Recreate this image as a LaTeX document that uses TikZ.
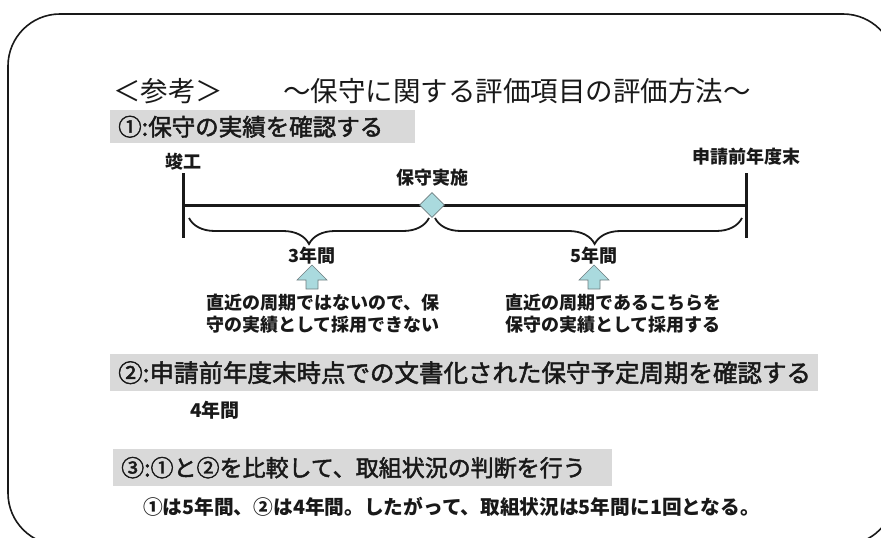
\documentclass[tikz,border=0pt]{standalone}
\usepackage{fontspec}
\setmainfont{Noto Sans CJK JP}
\newfontfamily\jpmed{Noto Sans CJK JP}[FakeBold=2]
\usetikzlibrary{decorations.pathreplacing,shapes.geometric}
\definecolor{boxgray}{RGB}{217,217,217}
\definecolor{tealfill}{RGB}{170,218,222}
\definecolor{edgegray}{RGB}{110,125,128}
\definecolor{ink}{RGB}{25,25,25}
\begin{document}
\begin{tikzpicture}[x=1pt,y=-1pt,
  every node/.style={text=ink},
  titlef/.style={font=\fontsize{27.5pt}{30pt}\selectfont, inner sep=0pt},
  secbox/.style={fill=boxgray, anchor=north west, inner xsep=8pt, inner ysep=0pt, align=left, font=\jpmed\fontsize{24.5pt}{26pt}\selectfont},
  lab/.style={font=\bfseries\fontsize{18pt}{20pt}\selectfont, inner sep=0pt},
  note/.style={font=\bfseries\fontsize{18pt}{22pt}\selectfont, inner sep=0pt, align=left, anchor=west},
  axis/.style={line width=3pt, draw=ink},
  bracestyle/.style={line width=1.8pt, draw=ink, decorate, decoration={brace, mirror, amplitude=26pt}},
  uparrow/.style={fill=tealfill, draw=edgegray, line width=0.6pt}
]
\useasboundingbox (0,0) rectangle (881,538);
% frame
\draw[line width=1.6pt, draw=ink, rounded corners=52pt] (8,14) rectangle (895,545);
% title
\node[titlef] (t1) at (168,91) {＜参考＞};
\node[titlef] (t2) at (517,91) {～保守に関する評価項目の評価方法～};
% section 1
\node[secbox, minimum width=305pt, text width=289pt, minimum height=33pt, font=\jpmed\fontsize{23.5pt}{26pt}\selectfont] (b1) at (110,110) {①:保守の実績を確認する};
% timeline
\coordinate (ltop) at (183,173);
\coordinate (lbot) at (183,238);
\coordinate (rtop) at (746,173);
\coordinate (rbot) at (746,238);
\coordinate (L) at (183,205);
\coordinate (R) at (746,205);
\draw[axis] (ltop) -- (lbot);
\draw[axis] (rtop) -- (rbot);
\draw[axis] (L) -- (R);
\node[diamond, draw=edgegray, fill=tealfill, line width=0.6pt, minimum width=25pt, minimum height=25pt, inner sep=0pt] (dia) at (432,205) {};
\coordinate (b1s) at (189,218);
\coordinate (b1e) at (429,218);
\coordinate (b2s) at (435,218);
\coordinate (b2e) at (742,218);
\draw[bracestyle] (b1s) -- (b1e);
\draw[bracestyle, decoration={brace, mirror, amplitude=26pt, aspect=0.52}] (b2s) -- (b2e);
\node[lab] (kanko) at (183,162) {竣工};
\node[lab] (hoshu) at (432,178) {保守実施};
\node[lab] (shinsei) at (746,157) {申請前年度末};
\node[lab] (y3) at (312,256) {3年間};
\node[lab] (y5) at (594,256) {5年間};
% block arrows
\draw[uparrow] (312,265) -- (327,280) -- (318,280) -- (318,289) -- (306,289) -- (306,280) -- (297,280) -- cycle;
\draw[uparrow] (594,265) -- (609,280) -- (600,280) -- (600,289) -- (588,289) -- (588,280) -- (579,280) -- cycle;
\node[note] (n1) at (206,314) {直近の周期ではないので、保\\守の実績として採用できない};
\node[note] (n2) at (505,314) {直近の周期であるこちらを\\保守の実績として採用する};
% section 2
\node[secbox, minimum width=708pt, text width=692pt, minimum height=37pt] (b2) at (110,354) {②:申請前年度末時点での文書化された保守予定周期を確認する};
\node[lab, font=\bfseries\fontsize{19pt}{21pt}\selectfont, anchor=west] (y4) at (190,410) {4年間};
% section 3
\node[secbox, minimum width=499pt, text width=483pt, minimum height=37pt, font=\jpmed\fontsize{23pt}{26pt}\selectfont] (b3) at (113,449) {③:①と②を比較して、取組状況の判断を行う};
\node[lab, font=\bfseries\fontsize{19.7pt}{21pt}\selectfont, anchor=west] (fin) at (143,507) {①は5年間、②は4年間。したがって、取組状況は5年間に1回となる。};
\end{tikzpicture}
\end{document}
